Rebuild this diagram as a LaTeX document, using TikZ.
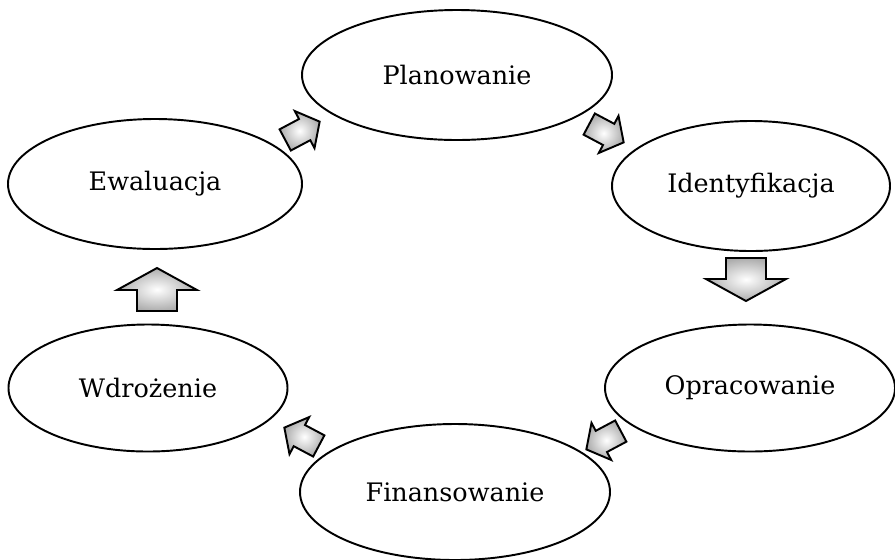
\documentclass[tikz,border=0pt]{standalone}
\usepackage{fontspec}
\setmainfont{DejaVu Serif}
\usetikzlibrary{shapes.geometric}

\begin{document}
\begin{tikzpicture}[x=0.02cm, y=-0.02cm,
    phase/.style={draw, ellipse, line width=1.1pt, fill=white, inner sep=0pt, font=\fontsize{14.5}{17}\selectfont},
    arrowfill/.style={draw, line width=1.1pt, line join=miter, shading=radial, inner color=white, outer color=gray!65},
    pics/bigarrow/.style={code={
        \path[arrowfill] (-21,-20) -- (0,-20) -- (0,-40) -- (22,0) -- (0,40) -- (0,20) -- (-21,20) -- cycle;
        \coordinate (-c) at (0,0);}},
    pics/smallarrow/.style={code={
        \path[arrowfill] (-19,-12) -- (3,-12) -- (3,-21) -- (20,0) -- (3,21) -- (3,12) -- (-19,12) -- cycle;
        \coordinate (-c) at (0,0);}}
]
\useasboundingbox (0,0) rectangle (895,559);

% phases of the cycle
\node[phase, minimum width=310*0.02cm, minimum height=130*0.02cm] (plan) at (457,75) {Planowanie};
\node[phase, minimum width=278*0.02cm, minimum height=130*0.02cm] (ident) at (751,186) {Identyfikacja};
\node[phase, minimum width=290*0.02cm, minimum height=127*0.02cm] (oprac) at (750,388) {Opracowanie};
\node[phase, minimum width=310*0.02cm, minimum height=136*0.02cm] (finans) at (455,492) {Finansowanie};
\node[phase, minimum width=279*0.02cm, minimum height=127*0.02cm] (wdroz) at (148,388) {Wdrożenie};
\node[phase, minimum width=294*0.02cm, minimum height=130*0.02cm] (ewal) at (155,184) {Ewaluacja};

% block arrows between the phases
\pic[rotate=-28] (planIdent) at (606,133) {smallarrow};
\pic[rotate=-90] (identOprac) at (746,279) {bigarrow};
\pic[rotate=208] (opracFinans) at (604,440) {smallarrow};
\pic[rotate=152] (finansWdroz) at (302,437) {smallarrow};
\pic[rotate=90] (wdrozEwal) at (157,290) {bigarrow};
\pic[rotate=28] (ewalPlan) at (302,131) {smallarrow};
\end{tikzpicture}
\end{document}
